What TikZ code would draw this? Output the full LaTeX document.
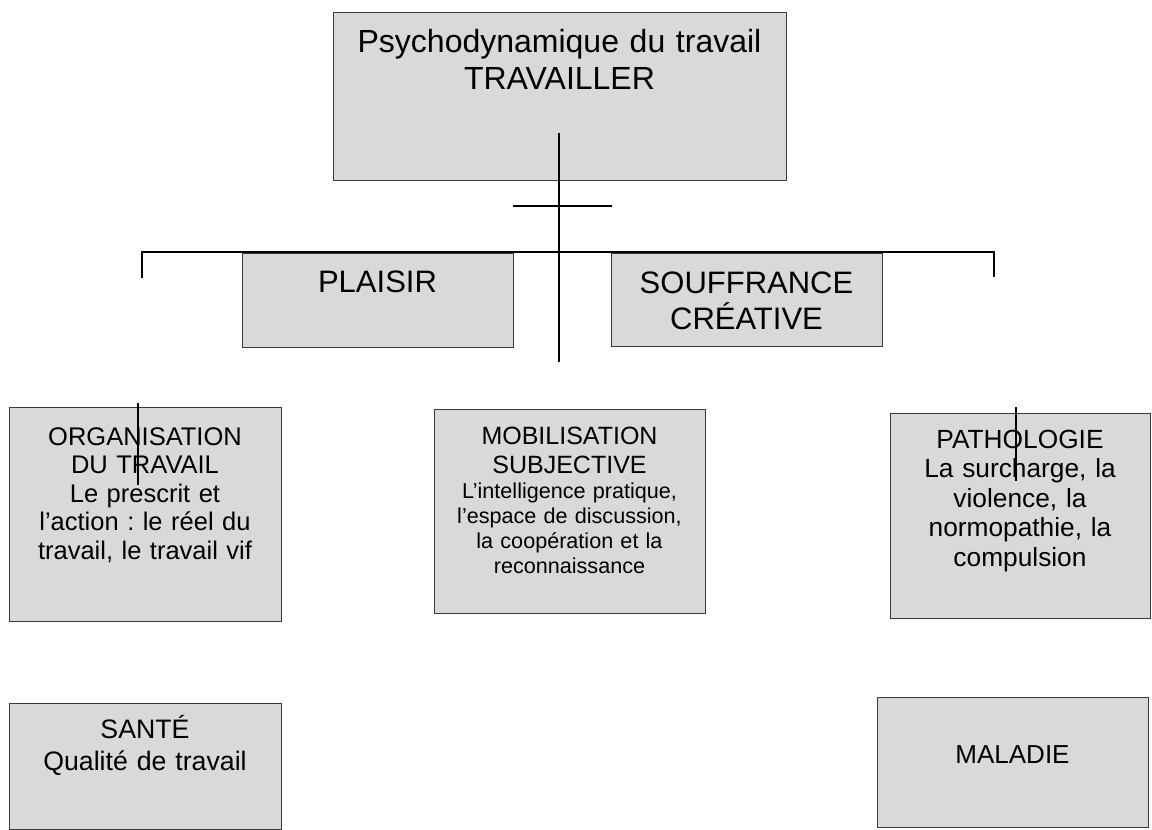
\documentclass[tikz,border=0pt]{standalone}
\usepackage{fontspec}
\setmainfont{Liberation Sans}
\frenchspacing
\definecolor{boxgray}{HTML}{D9D9D9}
\definecolor{edgegray}{HTML}{3A3A3A}
\tikzset{
  box/.style={draw=edgegray, fill=boxgray, line width=0.9pt, inner sep=0pt},
  txt/.style={anchor=base, align=center, inner sep=0pt, text width=#1},
  conn/.style={line width=1.3pt, black},
}
\begin{document}
\begin{tikzpicture}[x=1pt,y=-1pt]
\useasboundingbox[fill=white] (0,0) rectangle (1152,830);
% boxes
\node[box, minimum width=453pt, minimum height=168pt] (top) at (559.5,96) {};
\node[box, minimum width=271pt, minimum height=94pt] (plaisir) at (377.5,300) {};
\node[box, minimum width=271pt, minimum height=93pt] (souf) at (746.5,299.5) {};
\node[box, minimum width=272pt, minimum height=214pt] (org) at (145,514) {};
\node[box, minimum width=271pt, minimum height=204pt] (mob) at (569.5,511) {};
\node[box, minimum width=260pt, minimum height=205pt] (path) at (1020,515.5) {};
\node[box, minimum width=272pt, minimum height=126pt] (sante) at (145,766) {};
\node[box, minimum width=271pt, minimum height=130pt] (maladie) at (1012.5,762) {};
% texts
\node[txt=440pt, font=\fontsize{32}{37}\selectfont] (ttop) at (559.5,52) {Psychodynamique du travail\\TRAVAILLER};
\node[txt=260pt, font=\fontsize{31}{36}\selectfont] (tpl) at (377.5,292) {PLAISIR};
\node[txt=260pt, font=\fontsize{31}{36}\selectfont] (tso) at (746.5,293) {SOUFFRANCE\\CRÉATIVE};
\node[txt=265pt, font=\fontsize{25.5}{28.5}\selectfont] (tor) at (145,445) {ORGANISATION\\DU TRAVAIL\\Le prescrit et\\l’action : le réel du\\travail, le travail vif};
\node[txt=265pt, font=\fontsize{25}{29}\selectfont] (tmo) at (569.5,444) {MOBILISATION\\SUBJECTIVE};
\node[txt=265pt, font=\fontsize{21.6}{25}\selectfont] (tmo2) at (569.5,498) {L’intelligence pratique,\\l’espace de discussion,\\la coopération et la\\reconnaissance};
\node[txt=255pt, font=\fontsize{26.3}{29.5}\selectfont] (tpa) at (1020,448) {PATHOLOGIE\\La surcharge, la\\violence, la\\normopathie, la\\compulsion};
\node[txt=265pt, font=\fontsize{26.7}{32}\selectfont] (tsa) at (145,738) {SANTÉ\\Qualité de travail};
\node[txt=265pt, font=\fontsize{26}{30}\selectfont] (tma) at (1012.5,763) {MALADIE};
% connector coordinates
\coordinate (cTop) at (559,133);
\coordinate (cBot) at (559,362);
\coordinate (hL) at (513,206);
\coordinate (hR) at (612,206);
\coordinate (barL) at (142,252);
\coordinate (barR) at (994,252);
\coordinate (tickL) at (142,278);
\coordinate (tickR) at (994,277);
\coordinate (orgT) at (138,403);
\coordinate (orgB) at (138,485);
\coordinate (patT) at (1016,407);
\coordinate (patB) at (1016,481);
% connectors
\draw[conn] (cTop) -- (cBot);
\draw[conn] (hL) -- (hR);
\draw[conn] (tickL) -- (barL) -- (barR) -- (tickR);
\draw[conn] (orgT) -- (orgB);
\draw[conn] (patT) -- (patB);
\end{tikzpicture}
\end{document}
